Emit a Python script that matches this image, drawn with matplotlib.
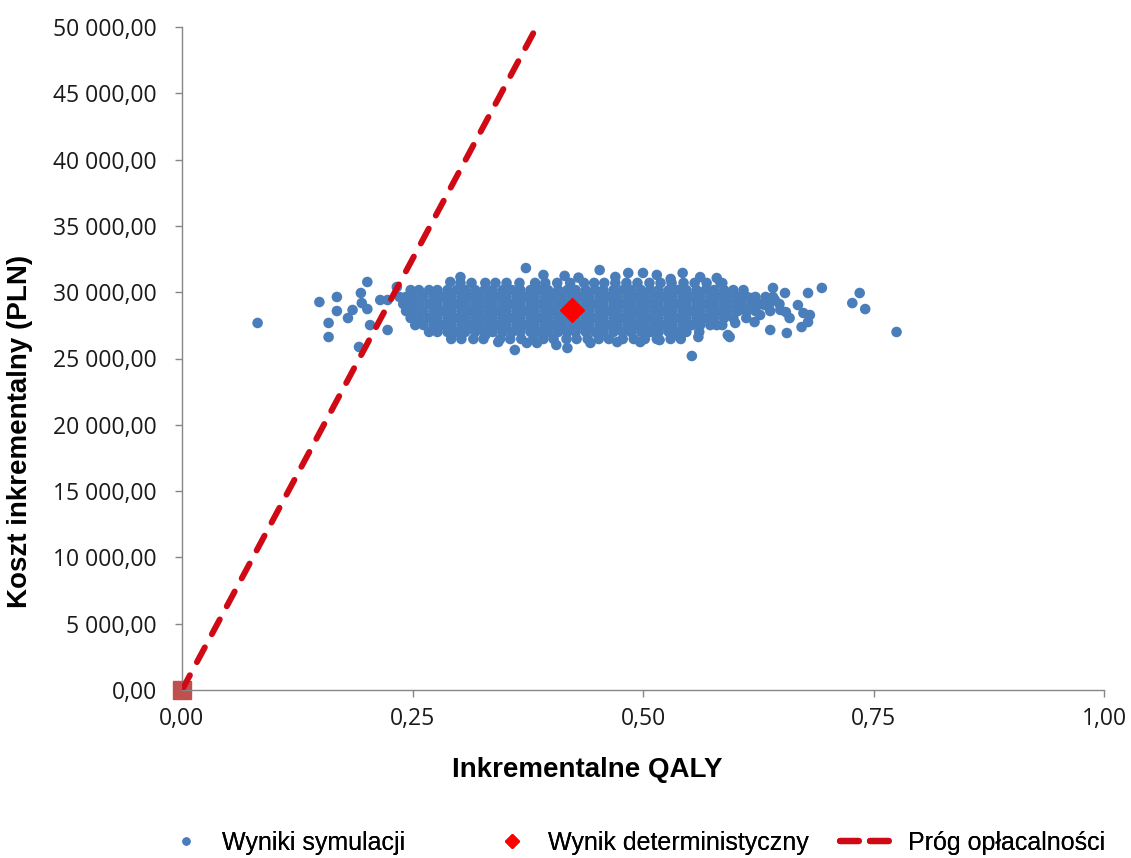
import matplotlib
matplotlib.use("Agg")
import matplotlib.pyplot as plt
from matplotlib.lines import Line2D
from matplotlib.ticker import FuncFormatter, MultipleLocator

# ---------------- data ----------------
# dense core of the simulation cloud, one list of QALY values per cost level (PLN)
row_30700 = [0.302, 0.314, 0.329, 0.340, 0.352, 0.366, 0.383, 0.394, 0.407, 0.421, 0.436, 0.447,
             0.458, 0.470, 0.482, 0.494, 0.507, 0.519, 0.531, 0.544, 0.556, 0.569, 0.584]
row_30160 = [0.248, 0.257, 0.268, 0.277, 0.288, 0.298, 0.307, 0.318, 0.328, 0.337, 0.348, 0.358,
             0.367, 0.378, 0.388, 0.397, 0.408, 0.418, 0.427, 0.438, 0.448, 0.457, 0.468, 0.478,
             0.487, 0.498, 0.508, 0.517, 0.528, 0.538, 0.547, 0.558, 0.568, 0.577, 0.588, 0.598, 0.609]
row_29640 = [0.236, 0.243, 0.253, 0.262, 0.273, 0.283, 0.292, 0.303, 0.313, 0.322, 0.333, 0.343,
             0.352, 0.363, 0.373, 0.382, 0.393, 0.403, 0.412, 0.423, 0.433, 0.442, 0.453, 0.463,
             0.472, 0.483, 0.493, 0.502, 0.513, 0.523, 0.532, 0.543, 0.553, 0.562, 0.573, 0.583,
             0.592, 0.603, 0.613, 0.622, 0.633, 0.641]
row_29110 = [0.240, 0.248, 0.257, 0.268, 0.277, 0.288, 0.298, 0.307, 0.318, 0.328, 0.337, 0.348,
             0.358, 0.367, 0.378, 0.388, 0.397, 0.408, 0.418, 0.427, 0.438, 0.448, 0.457, 0.468,
             0.478, 0.487, 0.498, 0.508, 0.517, 0.528, 0.538, 0.547, 0.558, 0.568, 0.577, 0.588,
             0.598, 0.607, 0.618, 0.628, 0.637, 0.648]
row_28580 = [0.243, 0.253, 0.262, 0.273, 0.283, 0.292, 0.303, 0.313, 0.322, 0.333, 0.343, 0.352,
             0.363, 0.373, 0.382, 0.393, 0.403, 0.412, 0.423, 0.433, 0.442, 0.453, 0.463, 0.472,
             0.483, 0.493, 0.502, 0.513, 0.523, 0.532, 0.543, 0.553, 0.562, 0.573, 0.583, 0.592,
             0.603, 0.613, 0.622, 0.638]
row_28050 = [0.248, 0.257, 0.268, 0.277, 0.288, 0.298, 0.307, 0.318, 0.328, 0.337, 0.348, 0.358,
             0.367, 0.378, 0.388, 0.397, 0.408, 0.418, 0.427, 0.438, 0.448, 0.457, 0.468, 0.478,
             0.487, 0.498, 0.508, 0.517, 0.528, 0.538, 0.547, 0.558, 0.568, 0.577, 0.588, 0.598, 0.612]
row_27520 = [0.253, 0.262, 0.273, 0.283, 0.292, 0.303, 0.313, 0.322, 0.333, 0.343, 0.352, 0.363,
             0.373, 0.382, 0.393, 0.403, 0.412, 0.423, 0.433, 0.442, 0.453, 0.463, 0.472, 0.483,
             0.493, 0.502, 0.513, 0.523, 0.532, 0.543, 0.553, 0.562, 0.573, 0.586]
row_27000 = [0.268, 0.277, 0.288, 0.298, 0.307, 0.318, 0.328, 0.337, 0.348, 0.358, 0.367, 0.378,
             0.388, 0.397, 0.408, 0.418, 0.427, 0.438, 0.448, 0.457, 0.468, 0.478, 0.487, 0.498,
             0.508, 0.517, 0.528, 0.538, 0.547, 0.561]
row_26470 = [0.292, 0.303, 0.316, 0.327, 0.345, 0.356, 0.368, 0.381, 0.392, 0.403, 0.417, 0.428,
             0.440, 0.452, 0.463, 0.478, 0.490, 0.502, 0.515, 0.530, 0.541]
core_costs = [30700, 30160, 29640, 29110, 28580, 28050, 27520, 27000, 26470]
core_rows = [row_30700, row_30160, row_29640, row_29110, row_28580, row_28050,
             row_27520, row_27000, row_26470]

# scattered simulation results around the core
extra_qaly = [0.082, 0.149, 0.168, 0.168, 0.159, 0.159, 0.180, 0.201, 0.194, 0.195, 0.201, 0.185,
              0.204, 0.215, 0.192, 0.223, 0.223, 0.233,
              0.373, 0.361, 0.418, 0.453, 0.374, 0.385, 0.343, 0.329, 0.302, 0.291, 0.484, 0.500,
              0.562, 0.580, 0.553, 0.560, 0.594, 0.638, 0.656, 0.672, 0.679, 0.694, 0.654, 0.641,
              0.727, 0.735, 0.741, 0.775, 0.668, 0.674, 0.649, 0.627, 0.679, 0.655, 0.681, 0.600,
              0.592, 0.580, 0.618, 0.632, 0.643, 0.659, 0.621, 0.611, 0.543, 0.586, 0.392, 0.415,
              0.430, 0.470, 0.515, 0.530, 0.406, 0.443, 0.472, 0.497, 0.518, 0.533]
extra_cost = [27680, 29260, 29640, 28580, 27680, 26620, 28050, 30770, 29940, 29180, 28730, 28660,
              27520, 29410, 25870, 29410, 27150, 30390,
              31820, 25640, 25790, 31670, 26170, 26170, 26240, 26770, 31140, 30770, 31450, 31450,
              31140, 31070, 25190, 26620, 26620, 27150, 26920, 27370, 29940, 30320, 29940, 30320,
              29180, 29940, 28730, 27000, 29030, 28430, 28660, 28280, 27750, 28500, 28280, 27680,
              26770, 27520, 29560, 29030, 29410, 28050, 27750, 28660, 31450, 30690, 31300, 31230,
              31100, 31150, 31300, 31000, 26020, 26170, 26240, 26240, 26390, 26770]

det_qaly = [0.423]
det_cost = [28660]
origin_qaly = [0.0]
origin_cost = [0.0]
threshold = 130002  # PLN / QALY

x_ticks = [0.0, 0.25, 0.5, 0.75, 1.0]
y_max = 50000
y_step = 5000

labels = ["Wyniki symulacji", "Wynik deterministyczny", "Próg opłacalności"]

# ---------------- assemble ----------------
sim_x, sim_y = [], []
for c, row in zip(core_costs, core_rows):
    sim_x += row
    sim_y += [c] * len(row)
sim_x += extra_qaly
sim_y += extra_cost

BLUE = "#4A7EBB"
RED_LINE = "#D00A14"
W, H = 1131, 858

fig = plt.figure(figsize=(W / 100, H / 100), dpi=100)
fig.patch.set_facecolor("white")
ax = fig.add_axes([182 / W, 1 - 690 / H, (1104 - 182) / W, (690 - 27) / H])
ax.set_xlim(0, 1)
ax.set_ylim(0, y_max)

ax.scatter(sim_x, sim_y, s=58, color=BLUE, edgecolors="none", zorder=3)
ax.plot(origin_qaly, origin_cost, marker="s", ms=13, color="#C0504D", ls="none",
        clip_on=False, zorder=2)
ax.axline((0, 0), slope=threshold, color=RED_LINE, lw=4.3, ls=(0, (2.8, 2.5)),
          dash_capstyle="round", zorder=4)
ax.plot(det_qaly, det_cost, marker="D", ms=12, color="#FF0000", ls="none", zorder=5)

# axes styling
for s in ["top", "right"]:
    ax.spines[s].set_visible(False)
for s in ["left", "bottom"]:
    ax.spines[s].set_color("#868686")
    ax.spines[s].set_linewidth(1.0)
ax.set_xticks(x_ticks)
ax.yaxis.set_major_locator(MultipleLocator(y_step))
ax.xaxis.set_major_formatter(FuncFormatter(lambda v, p: f"{v:.2f}".replace(".", ",")))
ax.yaxis.set_major_formatter(FuncFormatter(
    lambda v, p: f"{v:,.2f}".replace(",", " ").replace(".", ",")))
ax.tick_params(axis="both", direction="out", length=5, width=1, color="#868686",
               labelsize=16.5, labelcolor="#1a1a1a")
ax.tick_params(axis="y", pad=13)
ax.tick_params(axis="x", pad=7)
for lab in ax.get_xticklabels() + ax.get_yticklabels():
    lab.set_family("Open Sans")

fig.text(20 / W, 1 - 431 / H, "Koszt inkrementalny (PLN)", rotation=90, ha="center",
         va="center", fontsize=20, fontweight="bold", family="Liberation Sans")
fig.text(587 / W, 1 - 770 / H, "Inkrementalne QALY", ha="center", va="center",
         fontsize=20, fontweight="bold", family="Liberation Sans")

# legend: three entries placed where the reference shows them
leg_font = {"family": "Liberation Sans", "size": 18}
handles = [
    Line2D([], [], marker="o", ms=5, color=BLUE, ls="none"),
    Line2D([], [], marker="D", ms=7, color="#FF0000", ls="none"),
    Line2D([], [], color=RED_LINE, lw=4.5, ls=(0, (3.0, 1.8)), dash_capstyle="round"),
]
entry_left = [159.5, 486, 840]
entry_pad = [0.38, 0.38, 0.6]
for h, lab, xl, pad in zip(handles, labels, entry_left, entry_pad):
    lg = fig.legend([h], [lab], loc="center left", bbox_to_anchor=(xl / W, 1 - 843 / H),
                    frameon=False, prop=leg_font, handlelength=2.1, handletextpad=pad,
                    borderpad=0, borderaxespad=0)
    fig.add_artist(lg)

fig.savefig("out.png", dpi=100, facecolor="white")
